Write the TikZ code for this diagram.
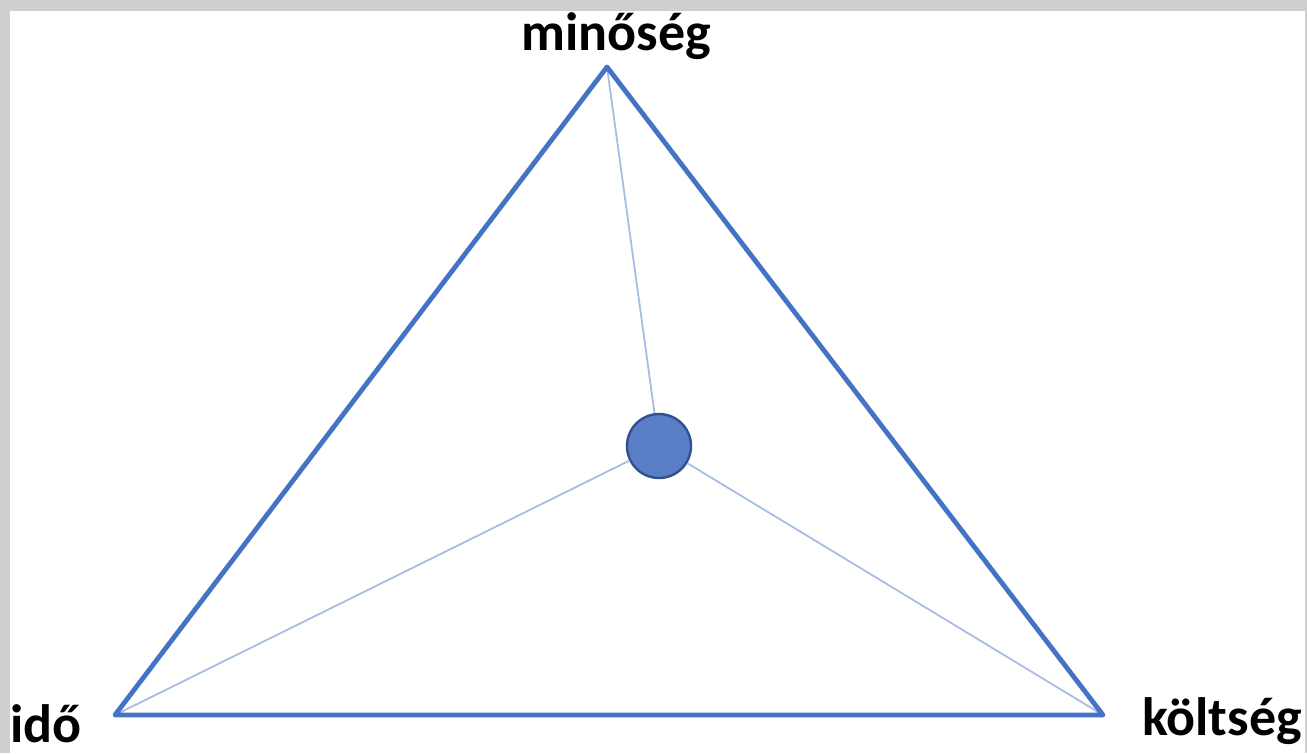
\documentclass[tikz,border=0pt]{standalone}
\usepackage{fontspec}
\setmainfont{Carlito}
\definecolor{keret}{HTML}{D0CECE}
\definecolor{kek}{HTML}{4472C4}
\definecolor{halvany}{HTML}{A9BCE3}
\definecolor{pont}{HTML}{5A7EC6}
\definecolor{pontszel}{HTML}{2F528F}
\tikzset{
  csucs/.style={font=\fontsize{54}{60}\bfseries\selectfont, anchor=base, inner sep=0pt},
  oldal/.style={kek, line width=4.8pt, line join=round},
  sugar/.style={halvany, line width=1.8pt}
}
\begin{document}
\begin{tikzpicture}[x=1pt, y=-1pt]
    % háttér és keret
    \fill[keret] (0, 0) rectangle (1307, 753);
    \fill[white] (10, 11) rectangle (1305, 753);
    \useasboundingbox (0, 0) rectangle (1307, 753);

    % a háromszög csúcsai
    \coordinate (min) at (607, 67);
    \coordinate (ido) at (115, 715);
    \coordinate (kolt) at (1103, 715);

    % középpont
    \node[circle, minimum size=64pt, inner sep=0pt, fill=pont, draw=pontszel, line width=2.4pt] (pont) at (659, 446) {};

    % vonalak a középponttól
    \draw[sugar] (min) -- (pont);
    \draw[sugar] (pont) -- (ido);
    \draw[sugar] (pont) -- (kolt);

    % háromszög
    \draw[oldal] (min) -- (kolt) -- (ido) -- cycle;

    % feliratok
    \node[csucs] (lmin) at (616, 50) {minőség};
    \node[csucs] (lido) at (46, 742) {idő};
    \node[csucs] (lkolt) at (1222, 735) {költség};
\end{tikzpicture}
\end{document}
